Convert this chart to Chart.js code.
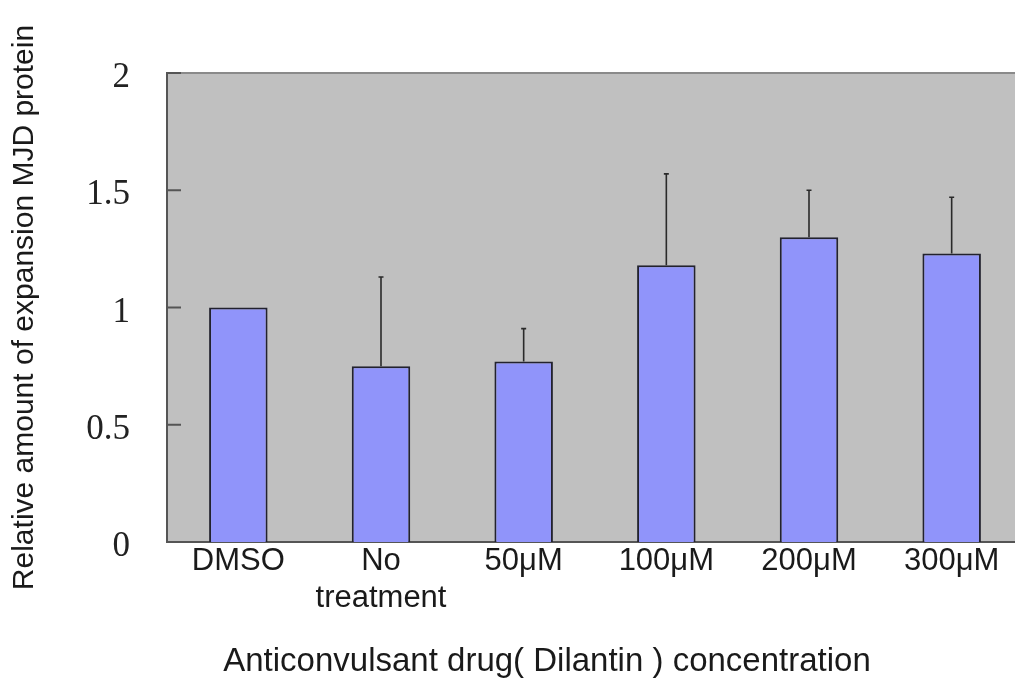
<!DOCTYPE html>
<html>
<head>
<meta charset="utf-8">
<script src="https://cdn.jsdelivr.net/npm/chart.js@4.4.1/dist/chart.umd.min.js"></script>
<style>
  html, body { margin: 0; padding: 0; background: #fff; overflow: hidden; }
  #wrap { width: 1024px; height: 679px; }
</style>
</head>
<body>
<div id="wrap"><canvas id="barChart" width="1024" height="679"></canvas></div>
<script>
// categories and values
const categories = ['DMSO', ['No', 'treatment'], '50μM', '100μM', '200μM', '300μM'];
const means = [1.00, 0.75, 0.77, 1.18, 1.30, 1.23];
const errors = [0, 0.38, 0.14, 0.39, 0.20, 0.24];
const yTicks = ['0', '0.5', '1', '1.5', '2'];

const yTitle = 'Relative amount of expansion MJD protein';
const xTitle = 'Anticonvulsant drug( Dilantin ) concentration';

// gray panel, inward tick marks, error bars, x title
const extras = {
  id: 'extras',
  beforeDraw(chart) {
    const a = chart.chartArea;
    const c = chart.ctx;
    c.save();
    c.fillStyle = '#c0c0c0';
    c.fillRect(a.left, a.top, a.right - a.left, a.bottom - a.top);
    c.strokeStyle = '#8a8a8a';
    c.lineWidth = 2;
    c.beginPath();
    c.moveTo(a.left, a.top);
    c.lineTo(a.right, a.top);
    c.stroke();
    c.restore();
  },
  afterDatasetsDraw(chart) {
    const c = chart.ctx;
    const x = chart.scales.x, y = chart.scales.y;
    c.save();
    // error bars (upper only)
    c.strokeStyle = '#2a2a2a';
    c.lineWidth = 1.6;
    means.forEach((m, i) => {
      if (!errors[i]) return;
      const px = x.getPixelForValue(i);
      const y0 = y.getPixelForValue(m);
      const y1 = y.getPixelForValue(m + errors[i]);
      c.beginPath();
      c.moveTo(px, y0);
      c.lineTo(px, y1);
      c.moveTo(px - 2.5, y1);
      c.lineTo(px + 2.5, y1);
      c.stroke();
    });
    // tick marks pointing into the panel
    c.strokeStyle = '#555';
    c.lineWidth = 2;
    y.ticks.forEach(t => {
      const py = y.getPixelForValue(t.value);
      c.beginPath();
      c.moveTo(chart.chartArea.left, py);
      c.lineTo(chart.chartArea.left + 14, py);
      c.stroke();
    });
    // x axis title
    c.fillStyle = '#1a1a1a';
    c.font = '33px "Liberation Sans", Arial, sans-serif';
    c.textAlign = 'center';
    c.textBaseline = 'alphabetic';
    c.fillText(xTitle, 547, 671);
    c.restore();
  }
};

const ctx = document.getElementById('barChart').getContext('2d');
const myChart = new Chart(ctx, {
  type: 'bar',
  data: {
    labels: categories,
    datasets: [{
      label: 'Relative amount',
      data: means,
      backgroundColor: '#9094fa',
      borderColor: '#22222e',
      borderWidth: 2,
      barPercentage: 0.41,
      categoryPercentage: 1.0
    }]
  },
  options: {
    responsive: false,
    animation: false,
    layout: { padding: { top: 73, right: 1, bottom: 0, left: 0 } },
    plugins: {
      legend: { display: false },
      tooltip: { enabled: false }
    },
    scales: {
      x: {
        grid: { display: false, drawTicks: false },
        border: { display: true, color: '#555', width: 2 },
        ticks: {
          color: '#1a1a1a',
          font: { family: '"Liberation Sans", Arial, sans-serif', size: 31 },
          padding: 1,
          maxRotation: 0,
          autoSkip: false
        },
        afterFit(scale) { scale.height = 137; }
      },
      y: {
        min: 0,
        max: 2,
        grid: { display: false, drawTicks: false },
        border: { display: true, color: '#555', width: 2 },
        ticks: {
          stepSize: 0.5,
          color: '#222',
          padding: 37,
          labelOffset: 5,
          font: { family: '"Liberation Serif", "Times New Roman", serif', size: 35 },
          callback: (v, i) => yTicks[i]
        },
        title: {
          display: true,
          text: yTitle,
          color: '#1a1a1a',
          font: { family: '"Liberation Sans", Arial, sans-serif', size: 30 },
          padding: { top: 7, bottom: 0 }
        },
        afterFit(scale) { scale.width = 167; }
      }
    }
  },
  plugins: [extras]
});
</script>
</body>
</html>
